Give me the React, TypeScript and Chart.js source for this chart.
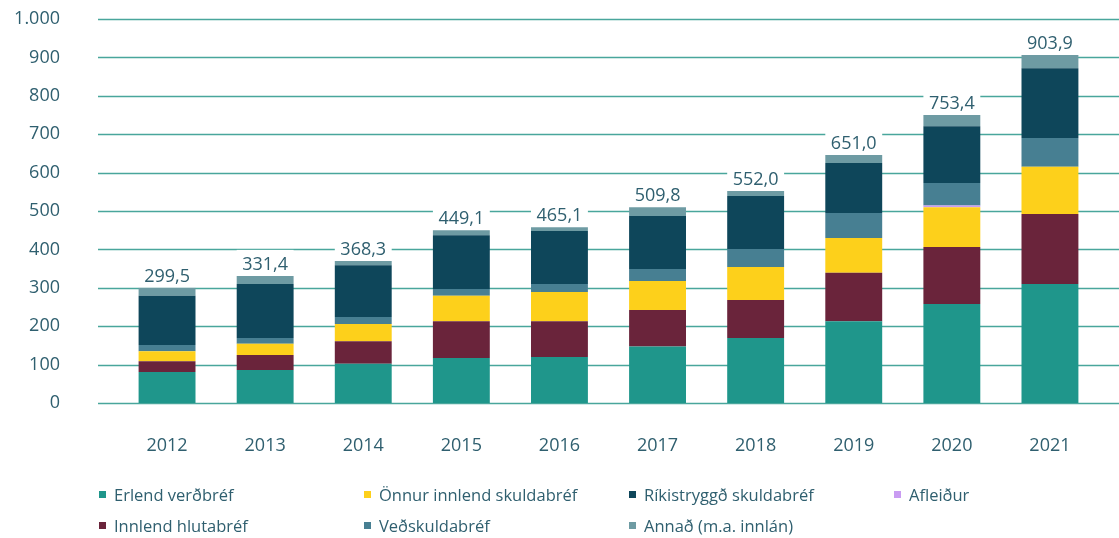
import React, { useEffect, useRef } from "react";
import { Chart, registerables } from "chart.js";

Chart.register(...registerables);

const categories = ["2012", "2013", "2014", "2015", "2016", "2017", "2018", "2019", "2020", "2021"];
const erlend = [81, 86, 102, 117, 120, 147, 169, 213, 258, 310];
const innlend = [28, 39, 59, 96, 93, 95, 99, 126, 148, 182];
const onnur = [26, 29, 45, 66, 76, 76, 86, 91, 104, 123];
const afleidur = [0, 0, 0, 0, 0, 0, 0, 0, 4, 0];
const vedskulda = [16, 15, 18, 18, 21, 31, 47, 65, 59, 75];
const rikis = [128, 141, 135, 140, 138, 138, 138, 130, 148, 182];
const annad = [21, 21, 11, 13, 10, 23, 13, 21, 29, 34];
const totals = [299.5, 331.4, 368.3, 449.1, 465.1, 509.8, 552.0, 651.0, 753.4, 903.9];
const yTicks = [0, 100, 200, 300, 400, 500, 600, 700, 800, 900, 1000];

const TEXT = "#2F5F6F";
const FONT = "'Open Sans', sans-serif";

const series = [
  { label: "Erlend verðbréf", data: erlend, color: "#1F968B" },
  { label: "Innlend hlutabréf", data: innlend, color: "#6A243B" },
  { label: "Önnur innlend skuldabréf", data: onnur, color: "#FDD01B" },
  { label: "Afleiður", data: afleidur, color: "#C99CF2" },
  { label: "Veðskuldabréf", data: vedskulda, color: "#477F92" },
  { label: "Ríkistryggð skuldabréf", data: rikis, color: "#0E465A" },
  { label: "Annað (m.a. innlán)", data: annad, color: "#6E9BA3" },
];

const legendOrder = [
  "Erlend verðbréf",
  "Innlend hlutabréf",
  "Önnur innlend skuldabréf",
  "Veðskuldabréf",
  "Ríkistryggð skuldabréf",
  "Annað (m.a. innlán)",
  "Afleiður",
];

const fmtThousands = (v: number) =>
  String(v).replace(/\B(?=(\d{3})+(?!\d))/g, ".");
const fmtDecimal = (v: number) => v.toFixed(1).replace(".", ",");

const gridPlugin = {
  id: "customGrid",
  beforeDatasetsDraw(chart: any) {
    const { ctx } = chart;
    const y = chart.scales.y;
    ctx.save();
    ctx.strokeStyle = "#49A69C";
    ctx.lineWidth = 1.5;
    yTicks.forEach((t) => {
      const py = Math.round(y.getPixelForValue(t)) + 0.5;
      ctx.beginPath();
      ctx.moveTo(98, py);
      ctx.lineTo(chart.width, py);
      ctx.stroke();
    });
    ctx.restore();
  },
};

const totalsPlugin = {
  id: "totals",
  afterDatasetsDraw(chart: any) {
    const { ctx } = chart;
    const meta = chart.getDatasetMeta(chart.data.datasets.length - 1);
    ctx.save();
    meta.data.forEach((bar: any, i: number) => {
      const top = bar.y;
      const w = bar.width;
      ctx.fillStyle = "#ffffff";
      ctx.fillRect(bar.x - w / 2, top - 26, w, 25.5);
      ctx.fillStyle = TEXT;
      ctx.font = `18px ${FONT}`;
      ctx.textAlign = "center";
      ctx.textBaseline = "alphabetic";
      ctx.fillText(fmtDecimal(totals[i]), bar.x, top - 6);
    });
    ctx.restore();
  },
};

export default function App() {
  const canvasRef = useRef<HTMLCanvasElement | null>(null);

  useEffect(() => {
    if (!canvasRef.current) return;
    const chart = new Chart(canvasRef.current, {
      type: "bar",
      data: {
        labels: categories,
        datasets: series.map((s) => ({
          label: s.label,
          data: s.data,
          backgroundColor: s.color,
          borderWidth: 0,
          categoryPercentage: 1,
          barPercentage: 0.58,
        })),
      },
      options: {
        animation: false,
        responsive: false,
        maintainAspectRatio: false,
        layout: { padding: { top: 19, right: 20, left: 0, bottom: 0 } },
        plugins: {
          legend: { display: false },
          tooltip: { enabled: false },
        },
        scales: {
          x: {
            stacked: true,
            grid: { display: false, drawTicks: false },
            border: { display: false },
            ticks: {
              color: TEXT,
              font: { family: FONT, size: 18 },
              padding: 32,
            },
            afterFit: (scale: any) => {
              scale.height = 135;
              scale.paddingLeft = 0;
              scale.paddingRight = 0;
            },
          },
          y: {
            stacked: true,
            min: 0,
            max: 1000,
            grid: { display: false, drawTicks: false },
            border: { display: false },
            ticks: {
              stepSize: 100,
              color: TEXT,
              font: { family: FONT, size: 18 },
              padding: 58,
              callback: (v: any) => fmtThousands(Number(v)),
            },
            afterFit: (scale: any) => {
              scale.width = 118;
              scale.paddingTop = 11;
              scale.paddingBottom = 11;
            },
          },
        },
      },
      plugins: [gridPlugin, totalsPlugin],
    });
    return () => chart.destroy();
  }, []);

  const colorOf = (label: string) => series.find((s) => s.label === label)!.color;

  return (
    <div style={{ position: "absolute", left: 0, top: 0, width: 1119, height: 538, background: "#fff" }}>
      <canvas ref={canvasRef} width={1119} height={538} style={{ display: "block" }} />
      <div
        style={{
          position: "absolute",
          left: 99,
          top: 479,
          display: "grid",
          gridTemplateRows: "31px 31px",
          gridTemplateColumns: "265px 265px 265px 200px",
          gridAutoFlow: "column",
          fontFamily: FONT,
          fontSize: 16.5,
          color: TEXT,
        }}
      >
        {legendOrder.map((l) => (
          <div key={l} style={{ display: "flex", alignItems: "center", whiteSpace: "nowrap" }}>
            <span
              style={{
                display: "inline-block",
                width: 7,
                height: 7,
                background: colorOf(l),
                marginRight: 8,
              }}
            />
            <span>{l}</span>
          </div>
        ))}
      </div>
    </div>
  );
}
